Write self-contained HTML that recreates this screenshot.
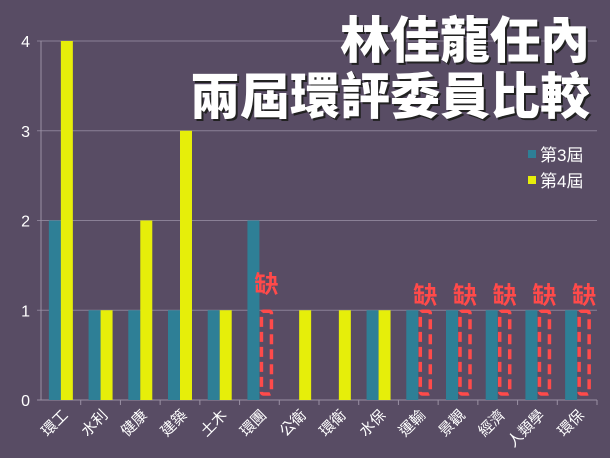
<!DOCTYPE html>
<html><head><meta charset="utf-8">
<style>
html,body{margin:0;padding:0;background:#584c64;}
svg{display:block;font-family:"Liberation Sans","Noto Sans CJK TC",sans-serif;}
</style></head>
<body>
<svg id="chart" width="610" height="458" viewBox="0 0 610 458">
<rect width="610" height="458" fill="#584c64"/>
<g id="grid"></g>
<g id="bars"></g>
<g id="labels"></g>
<g font-weight="900" fill="#ffffff" text-anchor="end" style="font-family:'Noto Sans CJK TC','WenQuanYi Zen Hei',sans-serif">
<text x="592" y="60" font-size="50" fill="#222">林佳龍任內</text>
<text x="590" y="58" font-size="50">林佳龍任內</text>
<text x="592" y="116" font-size="50" fill="#222">兩屆環評委員比較</text>
<text x="590" y="114" font-size="50">兩屆環評委員比較</text>
</g>
<g>
<rect x="528" y="150" width="8" height="8" fill="#2e7f96"/>
<text x="540" y="161" font-size="17" fill="#fff">第3屆</text>
<rect x="528" y="176" width="8" height="8" fill="#e6ee0a"/>
<text x="540" y="187" font-size="17" fill="#fff">第4屆</text>
</g>
</svg>
<script>
const categories=["環工","水利","健康","建築","土木","環團","公衛","環衛","水保","運輸","景觀","經濟","人類學","環保"];
const term3=[2,1,1,1,1,2,0,0,1,1,1,1,1,1];
const term4=[4,1,2,3,1,null,1,1,1,null,null,null,null,null];
const yTicks=[0,1,2,3,4];
const NS="http://www.w3.org/2000/svg";
const x0=41,x1=597,y0=400,y1=41,yMax=4;
const band=(x1-x0)/categories.length;
const y=v=>y0-(v/yMax)*(y0-y1);
const bx=i=>x0+band*i+band/2;
function mk(tag,attrs,parent){const e=document.createElementNS(NS,tag);for(const k in attrs)e.setAttribute(k,attrs[k]);parent.appendChild(e);return e;}
const grid=document.getElementById('grid'),bars=document.getElementById('bars'),labels=document.getElementById('labels');
yTicks.forEach(t=>{
 const l=mk('line',{x1:x0-4,x2:x1,y1:y(t),y2:y(t),stroke:t===0?'#9a90a4':'#8a8096','stroke-width':1},grid);
 
 
 const tx=mk('text',{x:x0-11,y:y(t)+6,'font-size':16,fill:'#fff','text-anchor':'end'},labels);
 tx.textContent=t;
 
 
});
const ax=mk('line',{x1:x0,x2:x0,y1:y1,y2:y0,stroke:'#9a90a4'},grid);


const bw=12;
categories.forEach((c,i)=>{
 const cx=bx(i);
 const tk=mk('line',{x1:x0+band*(i+1),x2:x0+band*(i+1),y1:y0,y2:y0+5,stroke:'#9a90a4'},grid);
 
 
 if(term3[i]>0){
  const r=mk('rect',{x:cx-bw,y:y(term3[i]),width:bw,height:y0-y(term3[i]),fill:'#2e7f96'},bars);
  
  
 }
 if(term4[i]===null){
  const d=mk('rect',{x:cx+2,y:y(1)+1,width:10,height:y0-y(1)-7,fill:'none',stroke:'#ff4a4a','stroke-width':3.5,'stroke-dasharray':'10,5',rx:2},bars);
  
  
  const m=mk('text',{x:cx+7,y:y(1)-(i===5?18:7),'font-size':24,'font-weight':'bold',fill:'#ff4a4a','text-anchor':'middle'},bars);
  m.textContent='缺';
  
  
 }else if(term4[i]>0){
  const r=mk('rect',{x:cx,y:y(term4[i]),width:bw,height:y0-y(term4[i]),fill:'#e6ee0a'},bars);
  
  
 }
 const t=mk('text',{x:cx+8,y:y0+16,'font-size':15,fill:'#fff','text-anchor':'end',transform:`rotate(-45 ${cx+8} ${y0+16})`},labels);
 t.textContent=c;
 
 
});
</script>
</body></html>
